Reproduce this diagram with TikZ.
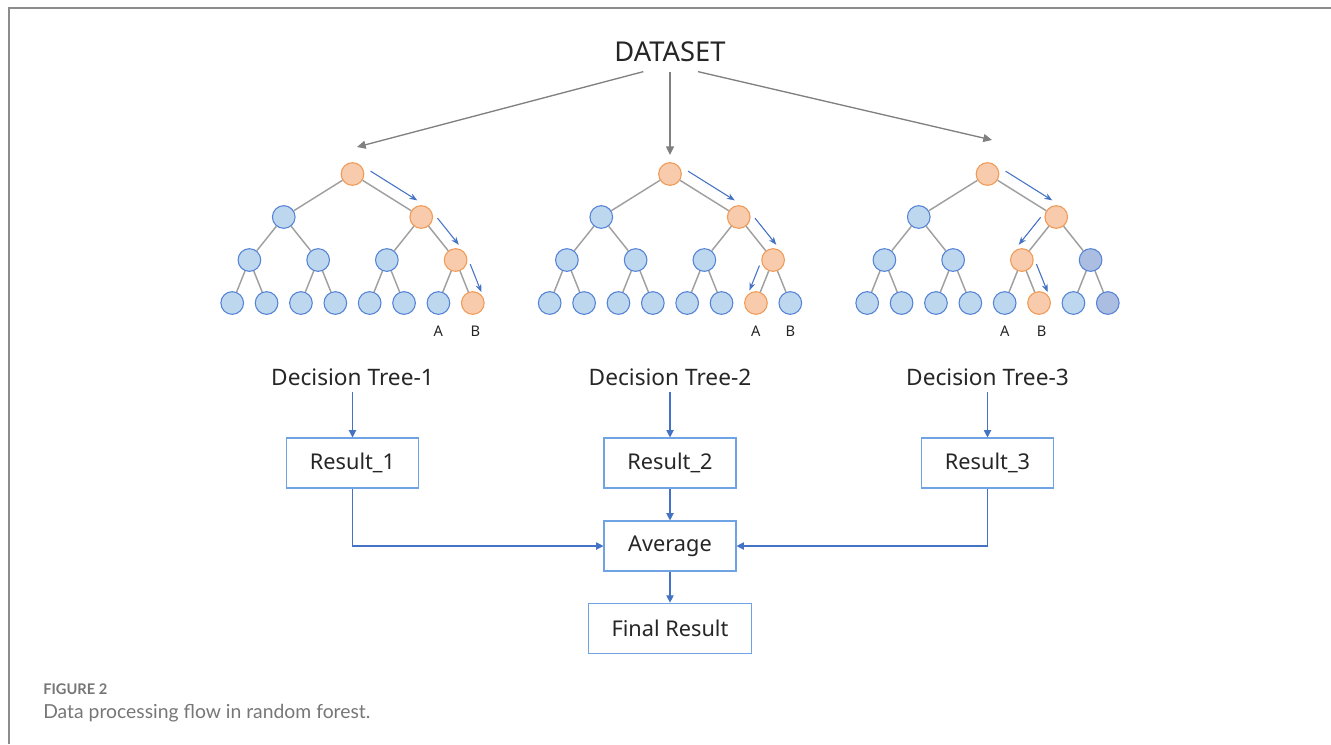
\documentclass[tikz,border=0pt]{standalone}
\usepackage{fontspec}
\setmainfont{Noto Sans}
\newfontfamily\capfont{Lato}
\usetikzlibrary{arrows.meta, positioning, calc}

\definecolor{nodefill}{RGB}{189,215,238}
\definecolor{nodeline}{RGB}{84,130,214}
\definecolor{hotfill}{RGB}{248,203,173}
\definecolor{hotline}{RGB}{240,154,85}
\definecolor{deepfill}{RGB}{171,190,226}
\definecolor{walkblue}{RGB}{68,114,196}
\definecolor{boxline}{RGB}{112,163,228}
\definecolor{edgegray}{RGB}{160,160,160}
\definecolor{arrowgray}{RGB}{128,128,128}
\definecolor{framegray}{RGB}{140,140,140}
\definecolor{textdark}{RGB}{38,38,38}
\definecolor{capgray}{RGB}{118,118,118}

\tikzset{
    treenode/.style={circle, draw=nodeline, fill=nodefill, line width=0.8pt, minimum size=17pt, inner sep=0pt},
    hot/.style={draw=hotline, fill=hotfill},
    deep/.style={fill=deepfill},
    walk/.style={draw=walkblue, line width=0.8pt, -{Stealth[length=6pt, width=4.5pt]}},
    feed/.style={draw=arrowgray, line width=1pt, -{Triangle[length=6.5pt, width=6pt]}},
    flow/.style={draw=walkblue, line width=0.8pt, -{Triangle[length=5.5pt, width=5.5pt]}},
    resbox/.style={rectangle, draw=boxline, line width=0.8pt, minimum width=99pt, minimum height=37.5pt, text=textdark, font=\fontsize{16.3}{19}\selectfont},
    treetitle/.style={text=textdark, inner sep=5pt, font=\fontsize{17}{20}\selectfont},
    leafmark/.style={text=textdark, font=\fontsize{11}{13}\selectfont}
}

\begin{document}
\begin{tikzpicture}[x=0.75pt, y=-0.75pt,
    level distance=32.25pt,
    level 1/.style={sibling distance=103.1pt},
    level 2/.style={sibling distance=51.56pt},
    level 3/.style={sibling distance=25.78pt},
    every child node/.style={treenode},
    edge from parent/.style={draw=edgegray, line width=1.1pt}]
    \useasboundingbox (0,0) rectangle (1331,744);

    % frame
    \draw[framegray, line width=1.5pt] (9,744) -- (9,8) -- (1331,8);

    \node[text=textdark, inner ysep=7pt, font=\fontsize{20.5}{24}\selectfont] (data) at (670,52) {DATASET};

    % three trees
    \node[treenode, hot] (t1) at (352.5,174) {}
        child {node {}
            child {node {} child {node {}} child {node {}}}
            child {node {} child {node {}} child {node {}}}}
        child {node[hot] {}
            child {node {} child {node {}} child {node {}}}
            child {node[hot] {} child {node {}} child {node[hot] {}}}};
    \node[treenode, hot] (t2) at (670,174) {}
        child {node {}
            child {node {} child {node {}} child {node {}}}
            child {node {} child {node {}} child {node {}}}}
        child {node[hot] {}
            child {node {} child {node {}} child {node {}}}
            child {node[hot] {} child {node[hot] {}} child {node {}}}};
    \node[treenode, hot] (t3) at (987.5,174) {}
        child {node {}
            child {node {} child {node {}} child {node {}}}
            child {node {} child {node {}} child {node {}}}}
        child {node[hot] {}
            child {node[hot] {} child {node {}} child {node[hot] {}}}
            child {node[deep] {} child {node {}} child {node[deep] {}}}};

    \node[leafmark, below=5pt of t1-2-2-1] (a1) {A};
    \node[leafmark, below=5pt of t1-2-2-2, xshift=2pt] (b1) {B};
    \node[leafmark, below=5pt of t2-2-2-1] (a2) {A};
    \node[leafmark, below=5pt of t2-2-2-2] (b2) {B};
    \node[leafmark, below=5pt of t3-2-1-1] (a3) {A};
    \node[leafmark, below=5pt of t3-2-1-2, xshift=2pt] (b3) {B};

    % dataset feeds
    \coordinate (in1) at (357,147);
    \coordinate (in2) at (670,155);
    \coordinate (in3) at (992,140);
    \draw[feed] ([xshift=-20pt]data.south) -- (in1);
    \draw[feed] (data) -- (in2);
    \draw[feed] ([xshift=21pt]data.south) -- (in3);

    % decision paths
    \draw[walk] ($(t1)!.17!(t1-2)!9pt!90:(t1-2)$) -- ($(t1)!.85!(t1-2)!9pt!90:(t1-2)$);
    \draw[walk] ($(t1-2)!.2!(t1-2-2)!9pt!90:(t1-2-2)$) -- ($(t1-2)!.82!(t1-2-2)!9pt!90:(t1-2-2)$);
    \draw[walk] ($(t1-2-2)!.2!(t1-2-2-2)!9pt!90:(t1-2-2-2)$) -- ($(t1-2-2)!.85!(t1-2-2-2)!9pt!90:(t1-2-2-2)$);

    \draw[walk] ($(t2)!.17!(t2-2)!9pt!90:(t2-2)$) -- ($(t2)!.85!(t2-2)!9pt!90:(t2-2)$);
    \draw[walk] ($(t2-2)!.2!(t2-2-2)!9pt!90:(t2-2-2)$) -- ($(t2-2)!.82!(t2-2-2)!9pt!90:(t2-2-2)$);
    \draw[walk] ($(t2-2-2)!.22!(t2-2-2-1)!8pt!-90:(t2-2-2-1)$) -- ($(t2-2-2)!.8!(t2-2-2-1)!8pt!-90:(t2-2-2-1)$);

    \draw[walk] ($(t3)!.17!(t3-2)!9pt!90:(t3-2)$) -- ($(t3)!.85!(t3-2)!9pt!90:(t3-2)$);
    \draw[walk] ($(t3-2)!.18!(t3-2-1)!9pt!-90:(t3-2-1)$) -- ($(t3-2)!.82!(t3-2-1)!9pt!-90:(t3-2-1)$);
    \draw[walk] ($(t3-2-1)!.2!(t3-2-1-2)!9pt!90:(t3-2-1-2)$) -- ($(t3-2-1)!.85!(t3-2-1-2)!9pt!90:(t3-2-1-2)$);

    % results
    \node[treetitle] (dt1) at (352.5,377) {Decision Tree-1};
    \node[treetitle] (dt2) at (670,377) {Decision Tree-2};
    \node[treetitle] (dt3) at (987.5,377) {Decision Tree-3};

    \node[resbox] (res1) at (352.5,463) {Result\_1};
    \node[resbox] (res2) at (670,463) {Result\_2};
    \node[resbox] (res3) at (987.5,463) {Result\_3};
    \node[resbox] (avg) at (670,546) {Average};
    \node[resbox, minimum width=122pt, minimum height=38pt] (final) at (670,628.5) {Final Result};

    \draw[flow] (dt1) -- (res1);
    \draw[flow] (dt2) -- (res2);
    \draw[flow] (dt3) -- (res3);
    \draw[flow] (res2) -- (avg);
    \draw[flow] (res1) |- (avg);
    \draw[flow] (res3) |- (avg);
    \draw[flow] (avg) -- (final);

    % caption
    \node[anchor=base west, inner sep=0pt, text=capgray, font=\capfont\bfseries\fontsize{11}{13}\selectfont] (fig) at (43,694) {FIGURE 2};
    \node[anchor=base west, inner sep=0pt, text=capgray, font=\capfont\fontsize{14.5}{17}\selectfont] (cap) at (43,718) {Data processing flow in random forest.};
\end{tikzpicture}
\end{document}
